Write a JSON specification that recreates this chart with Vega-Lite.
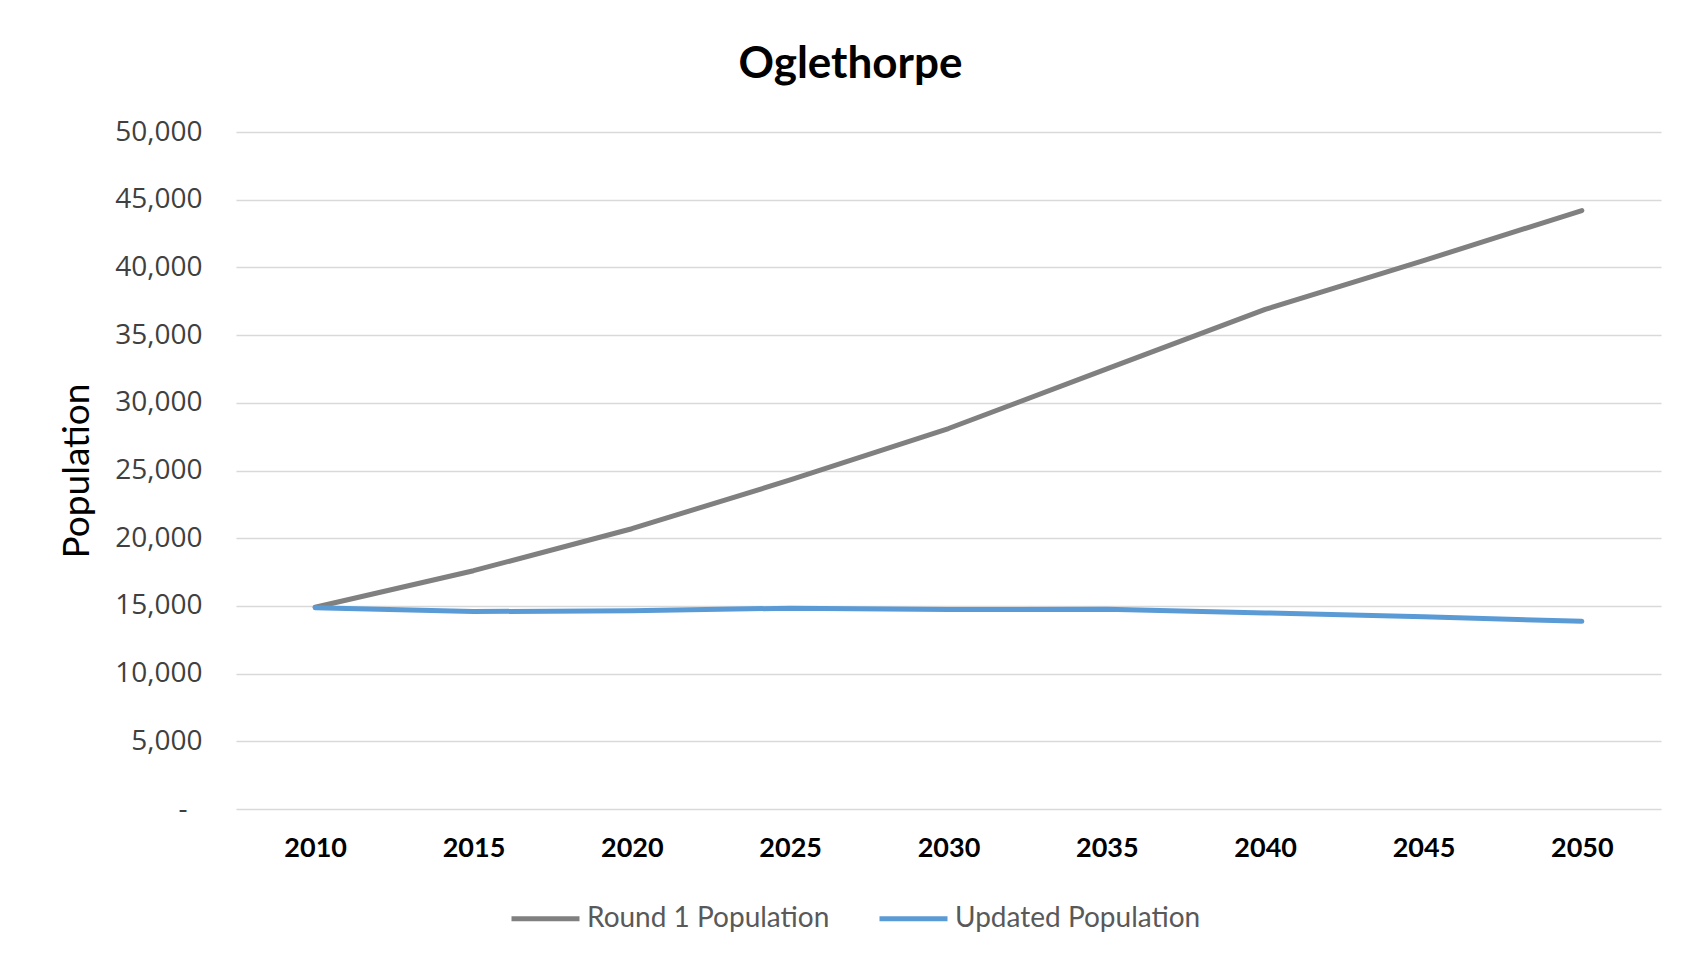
{
  "$schema": "https://vega.github.io/schema/vega-lite/v6.json",
  "width": 1425,
  "height": 677,
  "autosize": {"type": "none"},
  "padding": {"left": 236, "top": 132, "right": 38, "bottom": 153},
  "background": "white",
  "title": {"text": "Oglethorpe", "font": "Lato", "fontSize": 44, "fontWeight": "bold", "color": "black", "anchor": "middle", "dx": -98, "offset": 31},
  "data": {"values": [
    {"year": "2010", "series": "Round 1 Population", "population": 14900},
    {"year": "2015", "series": "Round 1 Population", "population": 17600},
    {"year": "2020", "series": "Round 1 Population", "population": 20700},
    {"year": "2025", "series": "Round 1 Population", "population": 24300},
    {"year": "2030", "series": "Round 1 Population", "population": 28100},
    {"year": "2035", "series": "Round 1 Population", "population": 32500},
    {"year": "2040", "series": "Round 1 Population", "population": 36900},
    {"year": "2045", "series": "Round 1 Population", "population": 40500},
    {"year": "2050", "series": "Round 1 Population", "population": 44200},
    {"year": "2010", "series": "Updated Population", "population": 14870},
    {"year": "2015", "series": "Updated Population", "population": 14580},
    {"year": "2020", "series": "Updated Population", "population": 14650},
    {"year": "2025", "series": "Updated Population", "population": 14830},
    {"year": "2030", "series": "Updated Population", "population": 14730},
    {"year": "2035", "series": "Updated Population", "population": 14760},
    {"year": "2040", "series": "Updated Population", "population": 14480},
    {"year": "2045", "series": "Updated Population", "population": 14200},
    {"year": "2050", "series": "Updated Population", "population": 13860}
  ]},
  "mark": {"type": "line", "strokeWidth": 5, "strokeCap": "round", "strokeJoin": "round"},
  "encoding": {
    "x": {
      "field": "year", "type": "ordinal",
      "scale": {"type": "point", "padding": 0.5},
      "axis": {"title": null, "labelAngle": 0, "domain": false, "ticks": false, "grid": false,
               "labelFont": "Lato", "labelFontSize": 27, "labelFontWeight": "bold", "labelColor": "black", "labelPadding": 26}
    },
    "y": {
      "field": "population", "type": "quantitative",
      "scale": {"domain": [0, 50000], "nice": false},
      "axis": {"title": "Population", "values": [0, 5000, 10000, 15000, 20000, 25000, 30000, 35000, 40000, 45000, 50000],
               "labelExpr": "datum.value == 0 ? '-' : format(datum.value, ',')",
               "domain": false, "ticks": false, "grid": true, "gridColor": "#d9d9d9", "gridWidth": 1.5,
               "labelFont": "Open Sans", "labelFontSize": 28, "labelColor": "#404040",
               "labelPadding": {"condition": {"test": "datum.value == 0", "value": 49}, "value": 34},
               "titleFont": "Lato", "titleFontSize": 37, "titleFontWeight": "normal", "titleColor": "black", "titlePadding": 18}
    },
    "color": {
      "field": "series", "type": "nominal",
      "scale": {"domain": ["Round 1 Population", "Updated Population"], "range": ["#808080", "#5b9bd5"]},
      "legend": {"title": null, "orient": "none", "legendX": 273, "legendY": 750, "direction": "horizontal",
                 "symbolType": "stroke", "symbolSize": 4624, "symbolStrokeWidth": 5,
                 "labelFont": "Lato", "labelFontSize": 28, "labelColor": "#595959", "labelOffset": 5, "labelLimit": 0,
                 "columnPadding": 39, "padding": 0}
    }
  },
  "config": {"view": {"stroke": null}}
}
